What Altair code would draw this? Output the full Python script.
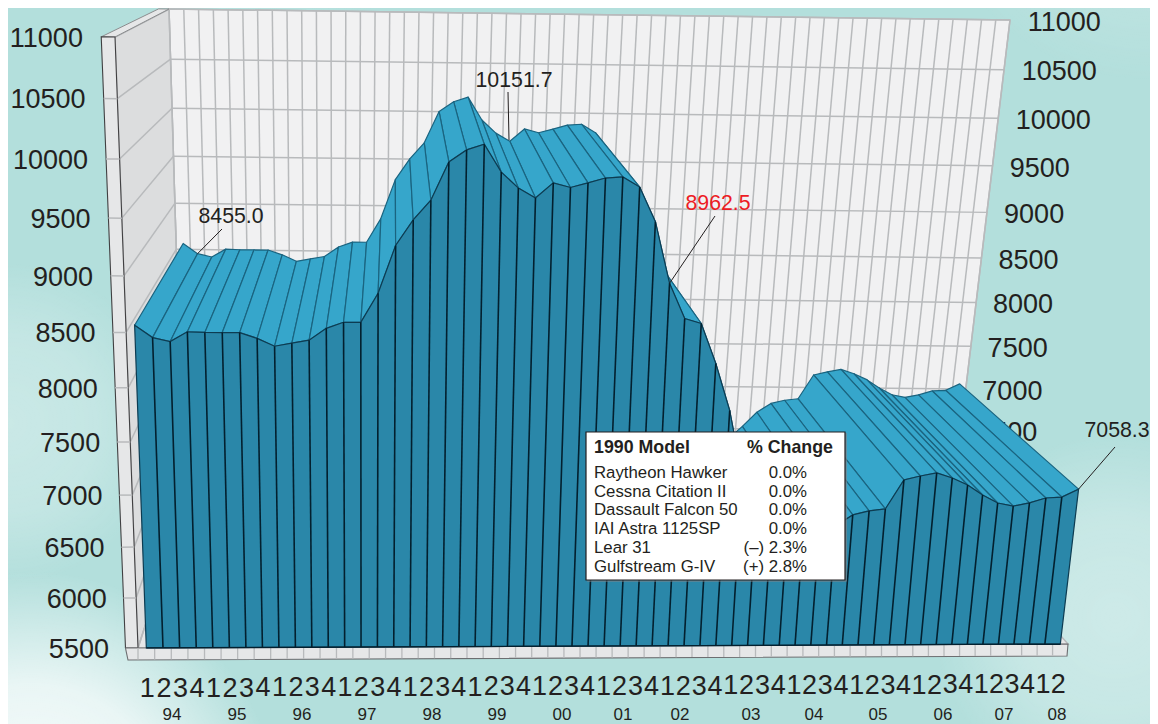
import altair as alt
import pandas as pd

# ---------- data ----------
VALUES = [8565, 8455, 8420, 8508, 8503, 8503, 8503, 8452, 8382, 8410, 8438, 8545, 8600, 8600,
          8860, 9280, 9503, 9673, 10000, 10103, 10151.7, 9918, 9783, 9700, 9830, 9792, 9832, 9875,
          9886, 9800, 9503, 8962.5, 8648, 8604, 8240, 7805, 7180, 6830, 6530, 6380, 6380, 6530,
          6700, 6807, 6846, 6865, 7147, 7185, 7215, 7166, 7098, 7001, 6923, 6893, 6924, 6972, 6981,
          7058.3]
QUARTERS = ["1", "2", "3", "4"] * 14 + ["1", "2"]
YEARS = ["94", "95", "96", "97", "98", "99", "00", "01", "02", "03", "04", "05", "06", "07", "08"]
TICKS = [5500, 6000, 6500, 7000, 7500, 8000, 8500, 9000, 9500, 10000, 10500, 11000]
LEGEND_HEAD = ["1990 Model", "% Change"]
LEGEND_NAMES = ["Raytheon Hawker", "Cessna Citation II", "Dassault Falcon 50", "IAI Astra 1125SP", "Lear 31", "Gulfstream G-IV"]
LEGEND_PCT = ["0.0%", "0.0%", "0.0%", "0.0%", "(–) 2.3%", "(+) 2.8%"]
CALLOUTS = ["8455.0", "10151.7", "8962.5", "7058.3"]

W, H = 1142, 716
FONT = "Liberation Sans"
INK = "#231f20"
GRID = "#b8babc"

# ---------- perspective of the two data planes ----------
FRONT = dict(bl=(138, 648), br=(1068, 644), tl=(115, 37), tr=(1139, 49), r=.89, k=1.04)
BACK = dict(bl=(184, 506), br=(951, 512), tl=(169, 9), tr=(1010, 20), r=.89, k=1.02)
N = len(VALUES)


def proj(P, u, v):
    a = (u + .5) / N
    t = (v - 5500) / 5500
    k = P["k"]
    w = [(1 - a) * (1 - t), a * k * (1 - t), (1 - a) * t * P["r"], a * k * t * P["r"]]
    c = [P["bl"], P["br"], P["tl"], P["tr"]]
    s = sum(w)
    return (sum(i * j[0] for i, j in zip(w, c)) / s, sum(i * j[1] for i, j in zip(w, c)) / s)


sx = alt.Scale(domain=[8, 8 + W], range=[0, W], nice=False, zero=False)
sy = alt.Scale(domain=[8, 8 + H], range=[0, H], nice=False, zero=False)


def polys(list_of_polys, **mark):
    rows = []
    for i, pts in enumerate(list_of_polys):
        for j, (x, y) in enumerate(pts):
            rows.append(dict(p=i, o=j, x=x, y=y))
    return alt.Chart(pd.DataFrame(rows)).mark_line(interpolate="linear-closed", **mark).encode(
        x=alt.X("x:Q", scale=sx, axis=None), y=alt.Y("y:Q", scale=sy, axis=None),
        detail="p:N", order="o:Q")


def lines(list_of_lines, **mark):
    rows = []
    for i, pts in enumerate(list_of_lines):
        for j, (x, y) in enumerate(pts):
            rows.append(dict(p=i, o=j, x=x, y=y))
    return alt.Chart(pd.DataFrame(rows)).mark_line(**mark).encode(
        x=alt.X("x:Q", scale=sx, axis=None), y=alt.Y("y:Q", scale=sy, axis=None),
        detail="p:N", order="o:Q")


def texts(rows, **mark):
    mark.setdefault("font", FONT)
    mark.setdefault("color", INK)
    mark.setdefault("baseline", "middle")
    return alt.Chart(pd.DataFrame(rows, columns=["x", "y", "t"])).mark_text(**mark).encode(
        x=alt.X("x:Q", scale=sx, axis=None), y=alt.Y("y:Q", scale=sy, axis=None), text="t:N")


def blob(cx, cy, r, op):
    return alt.Chart(pd.DataFrame({"a": [0]})).mark_rect(fill={
        "gradient": "radial", "x1": cx, "y1": cy, "r1": 0, "x2": cx, "y2": cy, "r2": r,
        "stops": [{"offset": 0, "color": f"rgba(255,255,255,{op})"},
                  {"offset": .55, "color": f"rgba(255,255,255,{op * .75})"},
                  {"offset": 1, "color": "rgba(255,255,255,0)"}]}).encode(
        x=alt.value(0), x2=alt.value(W), y=alt.value(0), y2=alt.value(H))


layers = [blob(0.02, 0.9, .22, .95), blob(0, .55, .14, .3), blob(.58, 1, .12, .3),
          blob(.97, .72, .16, .35), blob(.25, 0, .2, .3), blob(1, .05, .2, .2)]

# walls and floor
vtop, vbot = 11000, 5500
back_wall = [proj(BACK, -.5, vbot), proj(BACK, N - .5, vbot), proj(BACK, N - .5, vtop), proj(BACK, -.5, vtop)]
left_wall = [proj(FRONT, -.5, vbot), proj(BACK, -.5, vbot), proj(BACK, -.5, vtop), proj(FRONT, -.5, vtop)]
floor = [proj(FRONT, -.5, vbot), proj(FRONT, N - .5, vbot), proj(BACK, N - .5, vbot), proj(BACK, -.5, vbot)]
layers.append(polys([back_wall], fill="#f1f1f2", stroke=GRID, strokeWidth=1.5))
layers.append(polys([left_wall], fill="#dcddde", stroke=GRID, strokeWidth=1.5))
layers.append(polys([floor], fill="#e6e7e8", stroke=GRID, strokeWidth=1.5))

grid = [[proj(BACK, -.5, v), proj(BACK, N - .5, v)] for v in TICKS]
grid += [[proj(BACK, u - .5, vbot), proj(BACK, u - .5, vtop)] for u in range(N + 1)]
grid += [[proj(FRONT, -.5, v), proj(BACK, -.5, v)] for v in TICKS]
layers.append(lines(grid, stroke=GRID, strokeWidth=1.5))

# wall thickness
STRIP = -1.25
front_strip = [proj(FRONT, STRIP, vtop), proj(FRONT, -.5, vtop), proj(FRONT, -.5, vbot), proj(FRONT, STRIP, vbot)]
top_strip = [proj(FRONT, STRIP, vtop), proj(BACK, -1.2, vtop), proj(BACK, -.5, vtop), proj(FRONT, -.5, vtop)]
layers.append(polys([top_strip], fill="#e6e7e8", stroke="#8a8c8e", strokeWidth=1))
layers.append(polys([front_strip], fill="#e6e7e8", stroke="#414042", strokeWidth=1.1))
layers.append(lines([[proj(FRONT, STRIP, v), proj(FRONT, -.5, v)] for v in TICKS[1:-1]],
                    stroke=GRID, strokeWidth=1.5))
# base slab
slab = [proj(FRONT, STRIP, vbot), (128, 660), (1067, 656), proj(FRONT, N - .5, vbot)]
layers.append(polys([slab], fill="#e6e7e8", stroke="#6d6e71", strokeWidth=1.1))
layers.append(lines([[proj(FRONT, u - .5, vbot), (proj(FRONT, u - .5, vbot)[0], proj(FRONT, u - .5, vbot)[1] + 11.5)]
                     for u in range(0, N)], stroke=GRID, strokeWidth=1.3))

# right-hand tick labels, behind the surface
layers.append(texts([(proj(BACK, N + .75, v)[0], proj(BACK, N + .75, v)[1] + 2.5, str(v)) for v in TICKS],
                    fontSize=27, align="left"))

# surface: drawn outside-in towards the viewpoint column
VIEW = 16
order = list(range(0, VIEW)) + list(range(N - 2, VIEW - 1, -1))
tops = [[proj(FRONT, u, VALUES[u]), proj(FRONT, u + 1, VALUES[u + 1]),
         proj(BACK, u + 1, VALUES[u + 1]), proj(BACK, u, VALUES[u])] for u in order]
layers.append(polys(tops, fill="#36a6cb", stroke="#1a6480", strokeWidth=1.2, strokeJoin="round"))

# front face
outline = [proj(FRONT, u, VALUES[u]) for u in range(N)] + [proj(FRONT, N - 1, vbot), proj(FRONT, 0, vbot)]
layers.append(polys([outline], fill="#2a87a9", stroke="#0d3c52", strokeWidth=1.2))
layers.append(lines([[proj(FRONT, u, VALUES[u]), proj(FRONT, u, vbot)] for u in range(1, N - 1)],
                    stroke="#03202f", strokeWidth=1.6))
layers.append(lines([[proj(FRONT, 0, vbot), proj(FRONT, N - 1, vbot)]], stroke="#03202f", strokeWidth=1.3))

# callouts
layers.append(lines([[proj(BACK, 1, VALUES[1]), (222, 229)],
                     [(508, 92), (509, 140)],
                     [proj(FRONT, 31, VALUES[31]), (715, 216)],
                     [proj(FRONT, 57, VALUES[57]), (1115, 447)]], stroke=INK, strokeWidth=1))
layers.append(texts([(231, 216.5, CALLOUTS[0]), (514, 80.5, CALLOUTS[1]), (1117, 430.5, CALLOUTS[3])],
                    fontSize=21.3, align="center"))
layers.append(texts([(718, 203.5, CALLOUTS[2])], fontSize=21.3, align="center", color="#ed1c24"))

# left tick labels
layers.append(texts([(proj(FRONT, -2.3, v)[0] + 1, proj(FRONT, -2.3, v)[1] + 2, str(v)) for v in TICKS],
                    fontSize=27, align="right"))
# category labels
layers.append(texts([(proj(FRONT, u, vbot)[0] + 1 - 3 * u / (N - 1), proj(FRONT, u, vbot)[1] + 41, q)
                     for u, q in enumerate(QUARTERS)],
                    fontSize=27, align="center"))
YEAR_X = [172, 237, 302, 367, 432, 497, 562, 623, 680, 751, 814, 878, 943, 1004, 1057]
layers.append(texts([(x, 715, y) for x, y in zip(YEAR_X, YEARS)], fontSize=17, align="center"))

# legend box
LX0, LX1, LY0, LY1 = 586, 845, 432, 580
layers.append(lines([[(LX0 + 1, LY1 + 1), (LX1 + 1, LY1 + 1), (LX1 + 1, LY0 + 1)]], stroke="#808285", strokeWidth=1.2))
box = pd.DataFrame([dict(x=LX0, x2=LX1, y=LY0, y2=LY1)])
layers.append(alt.Chart(box).mark_rect(fill="#ffffff", stroke="#231f20", strokeWidth=1.2).encode(
    x=alt.X("x:Q", scale=sx, axis=None), x2="x2:Q", y=alt.Y("y:Q", scale=sy, axis=None), y2="y2:Q"))
layers.append(texts([(594, 448, LEGEND_HEAD[0])], fontSize=17.8, fontWeight="bold", align="left"))
layers.append(texts([(833, 448, LEGEND_HEAD[1])], fontSize=17.8, fontWeight="bold", align="right"))
layers.append(texts([(594, 473 + i * 18.7, n) for i, n in enumerate(LEGEND_NAMES)], fontSize=16.8, align="left"))
layers.append(texts([(807, 473 + i * 18.7, n) for i, n in enumerate(LEGEND_PCT)], fontSize=16.8, align="right"))

chart = alt.layer(*layers).properties(
    width=W, height=H, padding=0, background="#b3dfdc",
    autosize=alt.AutoSizeParams(type="none"),
).configure_view(stroke=None)
chart.save("out.html", embed_options={"renderer": "svg", "actions": False})
